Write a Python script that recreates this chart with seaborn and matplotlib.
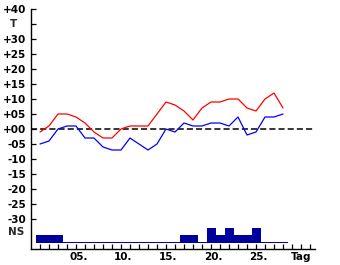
import matplotlib
matplotlib.use("Agg")
import matplotlib.pyplot as plt
import matplotlib.transforms as mtransforms
import seaborn as sns
import pandas as pd

# ---- data ----
days = list(range(1, 29))
t_max = [-1, 1, 5, 5, 4, 2, -1, -3, -3, 0, 1, 1, 1, 5, 9, 8, 6, 3, 7, 9,
         9, 10, 10, 7, 6, 10, 12, 7]
t_min = [-5, -4, 0, 1, 1, -3, -3, -6, -7, -7, -3, -5, -7, -5, 0, -1, 2, 1, 1, 2,
         2, 1, 4, -2, -1, 4, 4, 5]
ns_level = [1, 1, 1, 0, 0, 0, 0, 0, 0, 0, 0, 0, 0, 0, 0, 0, 1, 1, 0, 2,
            1, 2, 1, 1, 2, 0, 0, 0]
y_ticks = [40, 35, 30, 25, 20, 15, 10, 5, 0, -5, -10, -15, -20, -25, -30]
x_label_days = [5, 10, 15, 20, 25]
x_label_text = ["05.", "10.", "15.", "20.", "25."]

df = pd.DataFrame({"Tag": days, "Tmax": t_max, "Tmin": t_min, "NS": ns_level})

sns.set_style("white")
plt.rcParams["font.family"] = ["DejaVu Sans"]

W, H = 340, 265
fig = plt.figure(figsize=(W / 100, H / 100), dpi=100)
ax = fig.add_axes([31 / W, 16 / H, (315 - 31) / W, 240 / H])
ax.set_xlim(0, (315 - 31) / 9)
ax.set_ylim(-40, 40)

# precipitation bars (NS) at the bottom
ns_bottom = -38.0
ns_scale = 2.4
ns_base = 1 / 3
ax.bar(df["Tag"], [ns_base + v * ns_scale for v in df["NS"]], width=1.0,
       bottom=ns_bottom, color="#00009c", linewidth=0, zorder=2)

# zero line
ax.axhline(0, color="black", lw=1.1, linestyle=(0, (4.0, 2.0)), zorder=1)

# temperature lines
sns.lineplot(data=df, x="Tag", y="Tmax", color="#ff0000", lw=0.9, ax=ax, zorder=3)
sns.lineplot(data=df, x="Tag", y="Tmin", color="#0000ff", lw=0.9, ax=ax, zorder=3)
ax.set_xlabel("")
ax.set_ylabel("")

for s in ["top", "right"]:
    ax.spines[s].set_visible(False)
for s in ["left", "bottom"]:
    ax.spines[s].set_color("black")
    ax.spines[s].set_linewidth(1.0)

font = dict(family="DejaVu Sans", weight="bold", size=7.5)

# y ticks
ax.set_yticks(y_ticks)
ylabels = ["" if v == 35 else f"{v:+03d}" for v in y_ticks]
ax.set_yticklabels(ylabels, fontdict=font)
ax.tick_params(axis="y", left=True, direction="in", length=3.5, width=0.9,
               pad=3.4, colors="black")

# x ticks
ax.set_xticks(list(range(1, 32)))
xl = []
for d in range(1, 32):
    if d in x_label_days:
        xl.append(x_label_text[x_label_days.index(d)])
    elif d == 30:
        xl.append("Tag")
    else:
        xl.append("")
ax.set_xticklabels(xl, fontdict=font)
ax.tick_params(axis="x", bottom=True, direction="in", length=3.5, width=0.9,
               pad=2.5, colors="black")
offset = mtransforms.ScaledTranslation(2.5 / 100, 0, fig.dpi_scale_trans)
for lab in ax.get_xticklabels():
    if lab.get_text().endswith("."):
        lab.set_transform(lab.get_transform() + offset)

# special y labels
trans = mtransforms.blended_transform_factory(ax.transAxes, ax.transData)
ax.text(-17 / 284, 35, "T", transform=trans, ha="center", va="center", **font)
ax.text(-7 / 284, -34.3, "NS", transform=trans, ha="right", va="center", **font)

fig.savefig("out.png", dpi=100)
